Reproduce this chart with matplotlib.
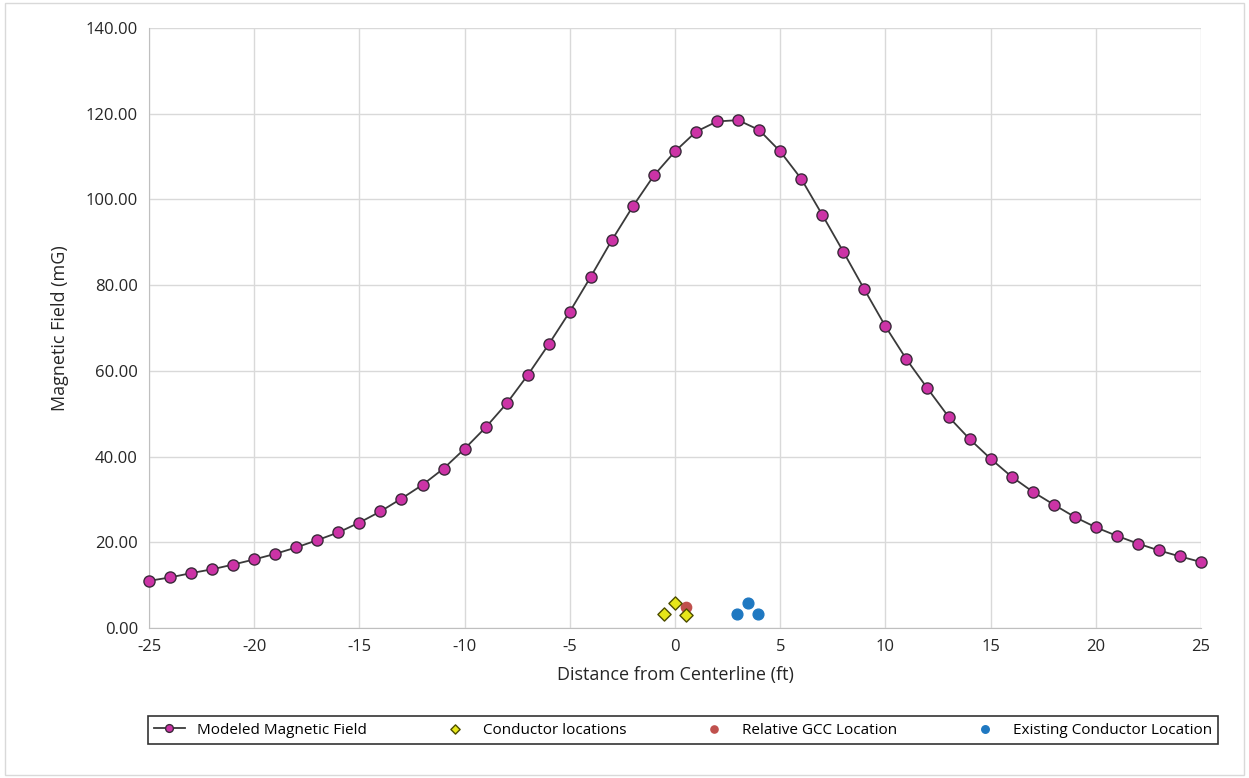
import matplotlib.pyplot as plt
import numpy as np

plt.rcParams['font.family'] = ['Open Sans', 'DejaVu Sans']
plt.rcParams['axes.unicode_minus'] = False

# modeled field, every foot from -25 to 25
distance = list(range(-25, 26))
field = [11.0, 11.8, 12.8, 13.7, 14.8, 16.0, 17.3, 18.8, 20.5, 22.3,
         24.6, 27.2, 30.2, 33.4, 37.2, 41.8, 46.8, 52.4, 59.0, 66.2,
         73.8, 82.0, 90.5, 98.4, 105.6, 111.2, 115.8, 118.2, 118.5, 116.2,
         111.2, 104.8, 96.4, 87.8, 79.0, 70.4, 62.7, 55.9, 49.3, 44.1,
         39.5, 35.3, 31.8, 28.8, 25.9, 23.5, 21.5, 19.7, 18.1, 16.7, 15.4]

cond_x = [-0.5, 0.0, 0.5]
cond_y = [3.2, 5.8, 3.0]
gcc_x = [0.5]
gcc_y = [5.0]
exist_x = [2.95, 3.45, 3.95]
exist_y = [3.2, 5.8, 3.2]

fig = plt.figure(figsize=(12.49, 7.78), dpi=100)
ax = fig.add_axes([149/1249, 1-628/778, 1052/1249, 600/778])

ax.plot(distance, field, color='#3a3a3a', lw=1.3, marker='o', markersize=8,
        markerfacecolor='#cc33a6', markeredgecolor='#3a2a3a', markeredgewidth=1,
        label='Modeled Magnetic Field', zorder=3, clip_on=False)
ax.scatter(cond_x, cond_y, marker='D', s=45, color='#e6e619', edgecolor='#4d4d00',
           linewidth=1, label='Conductor locations', zorder=4)
ax.scatter(gcc_x, gcc_y, marker='o', s=55, color='#c0504d', label='Relative GCC Location', zorder=3)
ax.scatter(exist_x, exist_y, marker='o', s=60, color='#1f78c1', label='Existing Conductor Location', zorder=3)

ax.set_xlim(-25, 25)
ax.set_ylim(0, 140)
ax.set_xticks(np.arange(-25, 26, 5))
ax.set_yticks(np.arange(0, 141, 20))
ax.set_yticklabels(['%.2f' % v for v in np.arange(0, 141, 20)])
ax.grid(True, color='#d9d9d9', lw=1)
ax.set_axisbelow(True)
for s in ['top', 'right']:
    ax.spines[s].set_visible(False)
for s in ['left', 'bottom']:
    ax.spines[s].set_color('#bfbfbf')
ax.tick_params(length=0, labelsize=12, colors='#262626', pad=8)
ax.set_xlabel('Distance from Centerline (ft)', fontsize=13, color='#262626', labelpad=8)
ax.set_ylabel('Magnetic Field (mG)', fontsize=13, color='#262626', labelpad=12)

leg = fig.legend(loc='center', bbox_to_anchor=(148/1249, 1-748/778, 1070/1249, 36/778),
                 mode='expand', ncol=4, fontsize=11, frameon=True, fancybox=False,
                 edgecolor='black', handlelength=2, borderaxespad=0, markerscale=0.7)
leg.get_frame().set_linewidth(1.2)

fig.patches.append(plt.Rectangle((0.004, 0.004), 0.992, 0.992, transform=fig.transFigure,
                                 fill=False, edgecolor='#d9d9d9', lw=1))

fig.savefig('out.png', dpi=100)
